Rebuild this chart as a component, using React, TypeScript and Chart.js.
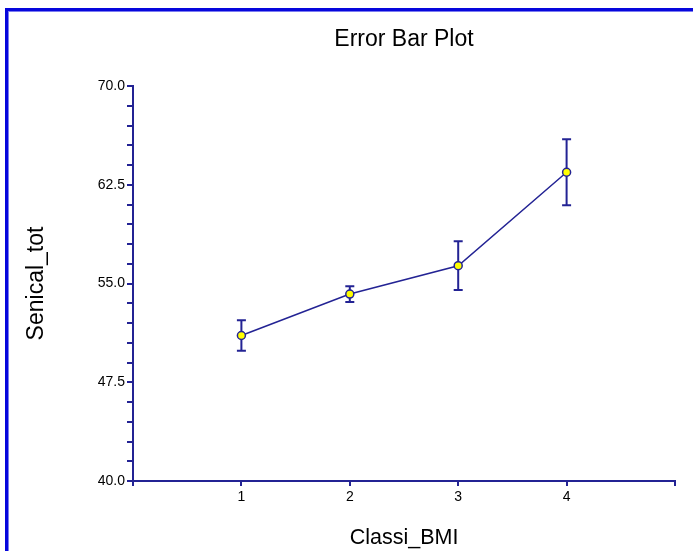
import React, { useEffect, useRef } from 'react';
import { Chart, registerables } from 'chart.js';

Chart.register(...registerables);

// ---- data ----
const categories = [1, 2, 3, 4];
const means = [51.05, 54.2, 56.35, 63.45];
const errors = [1.15, 0.6, 1.85, 2.5];
const xTickLabels = ['1', '2', '3', '4'];
const yMin = 40;
const yMax = 70;
const yMajorStep = 7.5;
const yMinorStep = 1.5;

const NAVY = '#232394';
const FRAME = '#0606dc';
const FONT = '"Liberation Sans", Arial, sans-serif';

const errorBarPlugin = {
  id: 'errorBars',
  beforeDatasetsDraw(chart: any) {
    const { ctx, scales } = chart;
    const x = scales.x;
    const y = scales.y;
    ctx.save();
    ctx.strokeStyle = NAVY;
    ctx.lineWidth = 2;
    categories.forEach((c, i) => {
      const px = x.getPixelForValue(c);
      const top = y.getPixelForValue(means[i] + errors[i]);
      const bot = y.getPixelForValue(means[i] - errors[i]);
      ctx.beginPath();
      ctx.moveTo(px, top);
      ctx.lineTo(px, bot);
      ctx.moveTo(px - 4.5, top);
      ctx.lineTo(px + 4.5, top);
      ctx.moveTo(px - 4.5, bot);
      ctx.lineTo(px + 4.5, bot);
      ctx.stroke();
    });
    ctx.restore();
  },
};

export default function App() {
  const ref = useRef<HTMLCanvasElement | null>(null);

  useEffect(() => {
    if (!ref.current) return;
    const chart = new Chart(ref.current, {
      type: 'line',
      data: {
        datasets: [
          {
            label: 'Senical_tot',
            data: categories.map((c, i) => ({ x: c, y: means[i] })),
            borderColor: NAVY,
            borderWidth: 1.5,
            pointBackgroundColor: '#ffff00',
            pointBorderColor: NAVY,
            pointBorderWidth: 1.5,
            pointRadius: 4,
            pointStyle: 'circle',
            tension: 0,
          },
        ],
      },
      options: {
        responsive: false,
        animation: false,
        layout: { padding: { left: 0, right: 18, top: 0, bottom: 0 } },
        plugins: {
          legend: { display: false },
          tooltip: { enabled: false },
          title: {
            display: true,
            text: 'Error Bar Plot',
            fullSize: false,
            color: '#000',
            font: { family: FONT, size: 23, weight: 'normal' },
            padding: { top: 26.2, bottom: 32.2 },
          },
        },
        scales: {
          x: {
            type: 'linear',
            min: 0,
            max: 5,
            afterFit: (s: any) => {
              s.height = 70;
            },
            ticks: {
              stepSize: 1,
              autoSkip: false,
              maxRotation: 0,
              padding: 3,
              color: '#000',
              font: { family: FONT, size: 14 },
              callback: (v: any) => {
                const idx = categories.indexOf(Number(v));
                return idx >= 0 ? xTickLabels[idx] : '';
              },
            },
            grid: {
              display: true,
              drawOnChartArea: false,
              drawTicks: true,
              tickLength: 5,
              color: NAVY,
              lineWidth: 2,
            },
            border: { display: true, color: NAVY, width: 2 },
            title: {
              display: true,
              text: 'Classi_BMI',
              color: '#000',
              font: { family: FONT, size: 21.5, weight: 'normal' },
              padding: { top: 13.1, bottom: 0 },
            },
          },
          y: {
            type: 'linear',
            min: yMin,
            max: yMax,
            afterFit: (s: any) => {
              s.width = 133;
            },
            ticks: {
              stepSize: yMinorStep,
              autoSkip: false,
              padding: 2,
              color: '#000',
              font: { family: FONT, size: 14 },
              callback: (v: any) => {
                const n = Number(v);
                const r = (n - yMin) / yMajorStep;
                return Math.abs(r - Math.round(r)) < 1e-6 ? n.toFixed(1) : '';
              },
            },
            grid: {
              display: true,
              drawOnChartArea: false,
              drawTicks: true,
              tickLength: 6,
              color: NAVY,
              lineWidth: 2,
            },
            border: { display: true, color: NAVY, width: 2 },
            title: {
              display: true,
              text: 'Senical_tot',
              color: '#000',
              font: { family: FONT, size: 23, weight: 'normal' },
              padding: { top: 23.2, bottom: 0 },
            },
          },
        },
      },
      plugins: [errorBarPlugin],
    } as any);
    return () => chart.destroy();
  }, []);

  return (
    <div
      style={{
        position: 'fixed',
        left: 0,
        top: 0,
        width: 693,
        height: 551,
        background: '#fff',
        overflow: 'hidden',
      }}
    >
      <canvas ref={ref} width={693} height={551} style={{ display: 'block', position: 'absolute', left: 0, top: 0 }} />
      <div style={{ position: 'absolute', left: 5, top: 8, width: 688, height: 3, background: FRAME }} />
      <div style={{ position: 'absolute', left: 5, top: 11, width: 688, height: 1, background: '#7c7cf0' }} />
      <div style={{ position: 'absolute', left: 5, top: 8, width: 3, height: 543, background: FRAME }} />
      <div style={{ position: 'absolute', left: 8, top: 11, width: 1, height: 540, background: '#7c7cf0' }} />
    </div>
  );
}
